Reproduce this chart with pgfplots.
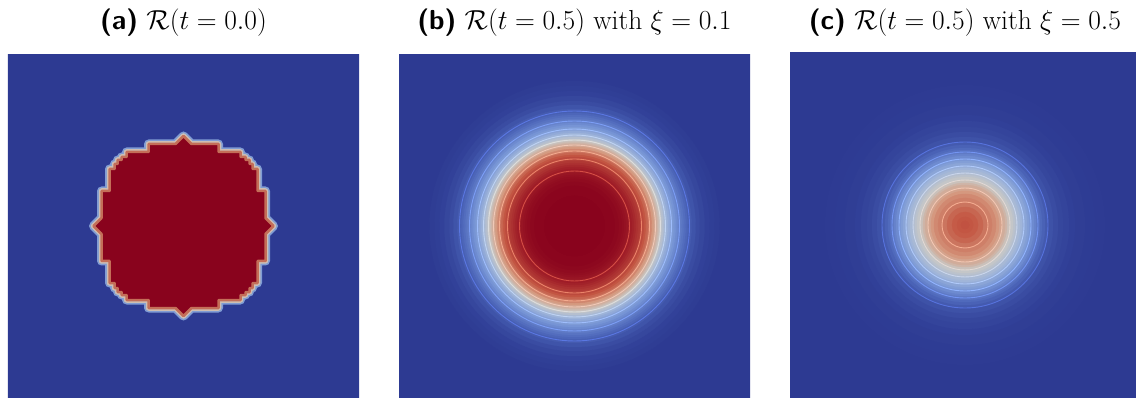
\RequirePackage{fix-cm}
\documentclass[border=0pt]{standalone}
\usepackage{fontspec}
\usepackage{pgfplots}
\usepackage{pgfplotstable}
\pgfplotsset{compat=1.18}

% shaded field colours (cool-to-warm, as rendered) and the brighter iso-line colours
\pgfplotsset{
  colormap={field}{rgb255=(45,58,146) rgb255=(78,104,187) rgb255=(118,148,213)
    rgb255=(160,181,217) rgb255=(200,200,198) rgb255=(214,158,132)
    rgb255=(195,85,66) rgb255=(160,30,40) rgb255=(137,3,29)},
  colormap={iso}{rgb255=(59,76,192) rgb255=(98,130,234) rgb255=(141,176,254)
    rgb255=(184,208,249) rgb255=(221,221,221) rgb255=(245,196,173)
    rgb255=(244,154,123) rgb255=(222,96,77) rgb255=(180,4,38)},
}
\definecolor{bg}{RGB}{45,58,146}
\definecolor{hot}{RGB}{137,3,29}
\definecolor{rimblue}{RGB}{128,156,212}
\definecolor{rimpale}{RGB}{206,190,178}
\definecolor{rimorange}{RGB}{196,110,88}

% initial indicator: cell-aligned outline of the region R = 1
\pgfplotstableread{
x y
0 90
8 82
35 82
35 74
57 74
57 69
62 69
62 66
66 66
66 62
69 62
69 57
74 57
74 35
82 35
82 8
90 0
82 -8
82 -35
74 -35
74 -57
69 -57
69 -62
66 -62
66 -66
62 -66
62 -69
57 -69
57 -74
35 -74
35 -82
8 -82
0 -90
-8 -82
-35 -82
-35 -74
-57 -74
-57 -69
-62 -69
-62 -66
-66 -66
-66 -62
-69 -62
-69 -57
-74 -57
-74 -35
-82 -35
-82 -8
-90 0
-82 8
-82 35
-74 35
-74 57
-69 57
-69 62
-66 62
-66 66
-62 66
-62 69
-57 69
-57 74
-35 74
-35 82
-8 82
}\shapeA

% radial profile of R(t=0.5), xi=0.1: radius (px) and value
\pgfplotstableread{
x y r v
0 0 150 0.000
0 0 145 0.007
0 0 140 0.013
0 0 135 0.020
0 0 130 0.035
0 0 125 0.050
0 0 121 0.070
0 0 117 0.090
0 0 115 0.100
0 0 113 0.120
0 0 111 0.140
0 0 109 0.160
0 0 107 0.180
0 0 105 0.200
0 0 103 0.225
0 0 101 0.250
0 0 99 0.275
0 0 97 0.300
0 0 95 0.333
0 0 93 0.367
0 0 91 0.400
0 0 89 0.440
0 0 87 0.480
0 0 86 0.500
0 0 85 0.520
0 0 84 0.540
0 0 83 0.560
0 0 82 0.580
0 0 81 0.600
0 0 79 0.633
0 0 77 0.667
0 0 75 0.700
0 0 73 0.725
0 0 71 0.750
0 0 69 0.775
0 0 67 0.800
0 0 65 0.817
0 0 63 0.833
0 0 61 0.850
0 0 59 0.867
0 0 57 0.883
0 0 55 0.900
0 0 53 0.917
0 0 51 0.934
0 0 49 0.951
0 0 47 0.965
0 0 44 0.978
0 0 40 0.990
0 0 30 1.000
}\profB

% iso-lines of panel (b): radius and level
\pgfplotstableread{
x y r v
0 0 115 0.1
0 0 105 0.2
0 0 97 0.3
0 0 91 0.4
0 0 86 0.5
0 0 81 0.6
0 0 75 0.7
0 0 67 0.8
0 0 55 0.9
}\isoB

% radial profile of R(t=0.5), xi=0.5
\pgfplotstableread{
x y r v
0 0 150 0.000
0 0 140 0.003
0 0 130 0.005
0 0 120 0.010
0 0 110 0.017
0 0 104 0.026
0 0 98 0.035
0 0 93 0.048
0 0 88 0.065
0 0 83 0.087
0 0 80 0.109
0 0 77 0.131
0 0 75 0.152
0 0 73 0.174
0 0 71 0.200
0 0 69 0.226
0 0 66 0.261
0 0 64 0.287
0 0 62 0.313
0 0 59 0.348
0 0 57 0.374
0 0 55 0.400
0 0 52 0.435
0 0 50 0.461
0 0 48 0.487
0 0 45 0.522
0 0 42 0.557
0 0 40 0.583
0 0 37 0.609
0 0 34 0.635
0 0 31 0.661
0 0 27 0.679
0 0 23 0.696
0 0 18 0.722
0 0 13 0.740
0 0 8 0.748
0 0 4 0.757
}\profC

\pgfplotstableread{
x y r v
0 0 83 0.087
0 0 73 0.174
0 0 66 0.261
0 0 59 0.348
0 0 52 0.435
0 0 45 0.522
0 0 37 0.609
0 0 23 0.696
}\isoC

% backdrop of one panel
\pgfplotstableread{
x y
-176 -173
176 -173
176 173
-176 173
}\frameBox

\pgfplotsset{
  panel/.style={
    x=1pt, y=1pt, hide axis, anchor=south west,
    point meta min=0, point meta max=1,
    title style={anchor=base, font=\fontsize{27.5}{32}\selectfont},
  },
  rings/.style={
    scatter, only marks, mark=*, colormap name=field,
    scatter src=explicit,
    scatter/use mapped color={draw=mapped color, fill=mapped color},
    visualization depends on={\thisrow{r} \as \rr},
    scatter/@pre marker code/.append style={/tikz/mark size=\rr},
    mark options={line width=0.4pt},
  },
  isolines/.style={
    scatter, only marks, mark=o, colormap name=iso,
    scatter src=explicit,
    scatter/use mapped color={draw=mapped color, fill=none},
    visualization depends on={\thisrow{r} \as \rr},
    scatter/@pre marker code/.append style={/tikz/mark size=\rr},
    mark options={line width=0.9pt},
  },
}

\begin{document}
\begin{tikzpicture}
\useasboundingbox (0pt,0pt) rectangle (1136pt,397pt);

% (a) initial condition
\begin{axis}[panel, at={(8pt,0pt)},
  xmin=-175.5, xmax=175.5, ymin=-171, ymax=171,
  title={{\sffamily\bfseries (a)} $\mathcal{R}(t=0.0)$},
  title style={yshift=19.5pt}]
  \addplot[fill=bg, draw=none] table {\frameBox} -- cycle;
  \addplot[draw=rimblue, line width=9pt, line join=round] table {\shapeA} -- cycle;
  \addplot[draw=rimpale, line width=5.5pt, line join=round] table {\shapeA} -- cycle;
  \addplot[fill=hot, draw=rimorange, line width=2.5pt, line join=round] table {\shapeA} -- cycle;
\end{axis}

% (b) xi = 0.1
\begin{axis}[panel, at={(399pt,0pt)},
  xmin=-175.5, xmax=175.5, ymin=-171, ymax=171,
  title={{\sffamily\bfseries (b)} $\mathcal{R}(t=0.5)$ with $\xi=0.1$},
  title style={yshift=19.5pt}]
  \addplot[fill=bg, draw=none] table {\frameBox} -- cycle;
  \addplot[rings] table[x=x, y=y, meta=v] {\profB};
  \addplot[isolines] table[x=x, y=y, meta=v] {\isoB};
\end{axis}

% (c) xi = 0.5
\begin{axis}[panel, at={(790pt,0pt)},
  xmin=-175, xmax=175, ymin=-172, ymax=172,
  title={{\sffamily\bfseries (c)} $\mathcal{R}(t=0.5)$ with $\xi=0.5$},
  title style={yshift=17.5pt}]
  \addplot[fill=bg, draw=none] table {\frameBox} -- cycle;
  \addplot[rings] table[x=x, y=y, meta=v] {\profC};
  \addplot[isolines] table[x=x, y=y, meta=v] {\isoC};
\end{axis}
\end{tikzpicture}
\end{document}
